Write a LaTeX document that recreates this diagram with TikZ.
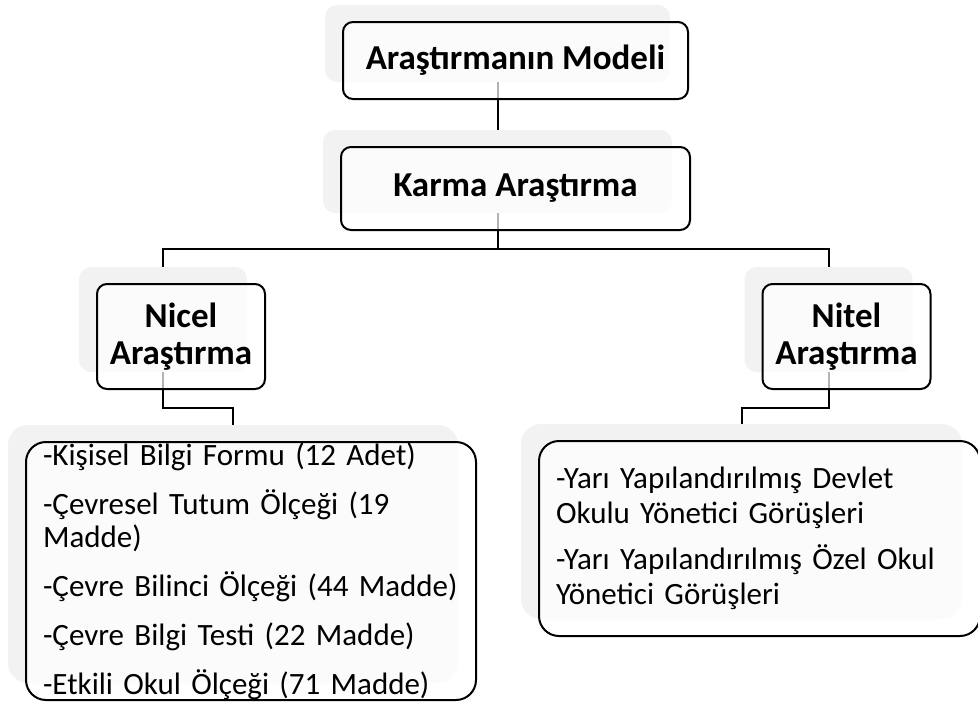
\documentclass[tikz,border=0pt]{standalone}
\usepackage{fontspec}
\setmainfont{Carlito}
\usetikzlibrary{positioning}
\definecolor{shadegray}{HTML}{F2F2F2}

\begin{document}
\begin{tikzpicture}[x=1pt,y=-1pt]
      \tikzstyle{back} = [rectangle, rounded corners=12pt, fill=shadegray, inner sep=0pt]
      \tikzstyle{front} = [rectangle, rounded corners=10pt, draw=black, line width=2pt, fill=white, fill opacity=0.7, text opacity=1, inner sep=0pt]
      \tikzstyle{head} = [front, align=center, font=\fontsize{35}{37}\selectfont\bfseries]
      \tikzstyle{items} = [front, rounded corners=20pt, align=left, inner xsep=17pt]
      \tikzstyle{link} = [line width=2pt]

      \useasboundingbox (0,0) rectangle (978,704);

      \node (modelB) [back, minimum width=345, minimum height=77] at (497.5,43.5) {};
      \node (karmaB) [back, minimum width=349, minimum height=83] at (497.5,171.5) {};
      \node (nicelB) [back, minimum width=168, minimum height=105] at (163,319.5) {};
      \node (nitelB) [back, minimum width=168, minimum height=105] at (828.5,319.5) {};
      \node (nicellistB) [back, rounded corners=20pt, minimum width=450, minimum height=258] at (233,554) {};
      \node (nitellistB) [back, rounded corners=20pt, minimum width=441, minimum height=195] at (741.5,521.5) {};

      \draw [link] (modelB.south) -- (karmaB.north);
      \draw [link] (karmaB.south) -- ++(0,36) -| (nicelB.north);
      \draw [link] (karmaB.south) -- ++(0,36) -| (nitelB.north);
      \draw [link] (nicelB.south) -- ++(0,36) -| (nicellistB.north);
      \draw [link] (nitelB.south) -- ++(0,36) -| (nitellistB.north);

      \node (model) [head, minimum width=345, minimum height=77] at ([shift={(18,17)}]modelB) {Araştırmanın Modeli};
      \node (karma) [head, minimum width=349, minimum height=83] at ([shift={(18,17)}]karmaB) {Karma Araştırma};
      \node (nicel) [head, minimum width=168, minimum height=105] at ([shift={(18,17)}]nicelB) {Nicel\\Araştırma};
      \node (nitel) [head, minimum width=168, minimum height=105] at ([shift={(18,17)}]nitelB) {Nitel\\Araştırma};
      \node (nicellist) [items, text width=416, minimum height=258, font=\fontsize{31}{33}\selectfont] at ([shift={(18,17)}]nicellistB) {-Kişisel Bilgi Formu (12 Adet)\\[16pt]
        -Çevresel Tutum Ölçeği (19\\
        Madde)\\[16pt]
        \mbox{-Çevre Bilinci Ölçeği (44 Madde)}\\[16pt]
        -Çevre Bilgi Testi (22 Madde)\\[16pt]
        -Etkili Okul Ölçeği (71 Madde)};
      \node (nitellist) [items, text width=407, minimum height=195, font=\fontsize{31}{35}\selectfont] at ([shift={(18,17)}]nitellistB) {-Yarı Yapılandırılmış Devlet\\
        Okulu Yönetici Görüşleri\\[11pt]
        -Yarı Yapılandırılmış Özel Okul\\
        Yönetici Görüşleri};

\end{tikzpicture}
\end{document}
